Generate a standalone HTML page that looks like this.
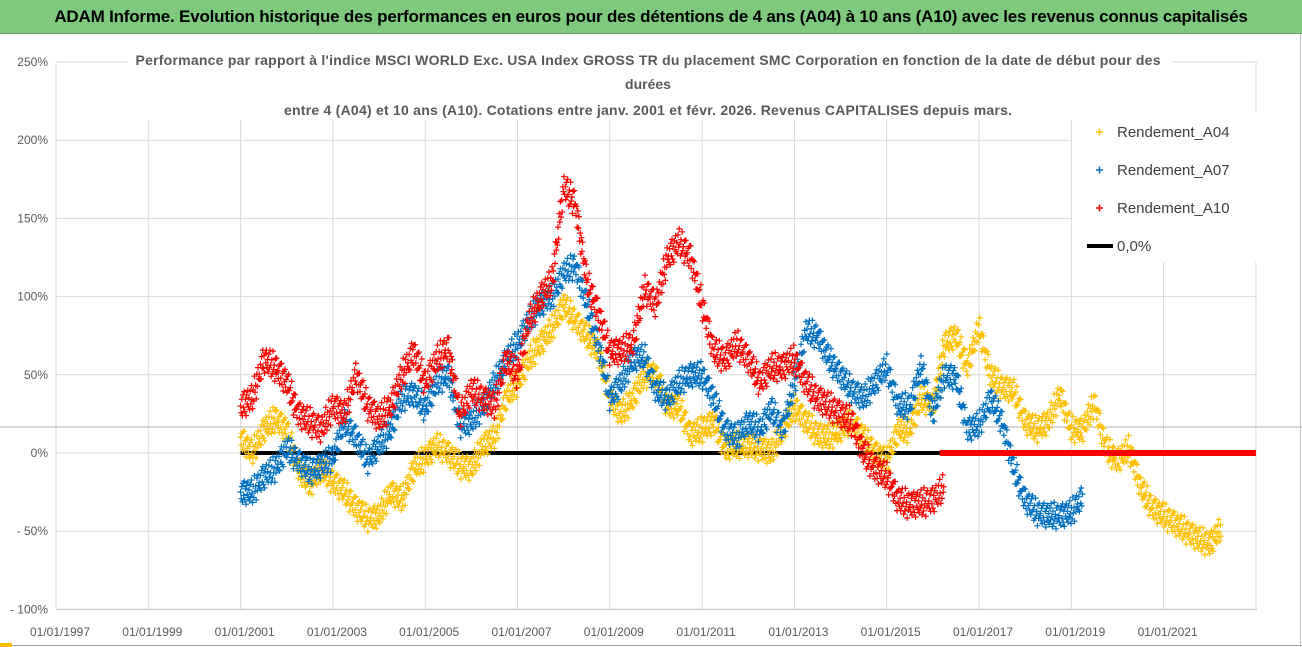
<!DOCTYPE html>
<html><head><meta charset="utf-8">
<style>
html,body{margin:0;padding:0;background:#fff;}
body{width:1302px;height:647px;overflow:hidden;position:relative;font-family:"Liberation Sans",sans-serif;}
#topbar{position:absolute;left:0;top:0;width:1302px;height:33px;background:#7fc97f;border-bottom:1px solid #6aa86a;}
#topbar div{font-weight:bold;font-size:17px;line-height:33px;text-align:center;color:#000;letter-spacing:-0.2px;}
svg{position:absolute;left:0;top:0;}
</style></head><body>
<div id="topbar"><div>ADAM Informe. Evolution historique des performances en euros pour des détentions de 4 ans (A04) à 10 ans (A10) avec les revenus connus capitalisés</div></div>
<svg id="chart" width="1302" height="647" viewBox="0 0 1302 647"></svg>
<script>
// ---- data (quarterly from start year) ----
const xTickLabels = ["01/01/1997","01/01/1999","01/01/2001","01/01/2003","01/01/2005","01/01/2007","01/01/2009","01/01/2011","01/01/2013","01/01/2015","01/01/2017","01/01/2019","01/01/2021"];
const yTickValues = [250,200,150,100,50,0,-50,-100];
const yTickLabels = ["250%","200%","150%","100%","50%","0%","- 50%","- 100%"];
const a04Start = 2001.0;
const a04Values = [10,0,15,22,15,-10,-20,-10,-18,-25,-35,-42,-40,-25,-30,-10,-3,5,0,-8,-10,5,10,35,45,60,70,80,95,85,75,65,35,25,35,50,50,30,30,12,15,20,3,5,5,3,0,15,30,20,12,10,15,20,10,0,-5,15,15,35,30,70,75,55,80,50,42,40,20,15,20,38,15,15,32,3,-5,3,-22,-35,-40,-45,-50,-55,-58,-48];
const a07Start = 2001.0;
const a07Values = [-25,-25,-15,-10,3,-5,-12,-8,-3,20,10,-5,5,15,35,38,28,45,50,18,20,30,45,60,70,85,95,100,115,120,95,70,35,45,60,62,40,35,45,50,50,35,15,10,20,15,28,15,45,78,75,60,50,40,35,45,55,30,30,55,25,50,48,15,18,35,20,-10,-30,-38,-40,-40,-38,-28];
const a10Start = 2001.0;
const a10Values = [30,35,60,55,45,25,20,15,30,25,50,30,22,30,50,65,45,60,68,25,40,35,30,60,50,85,100,110,170,160,110,90,65,65,70,105,95,125,135,125,95,65,60,70,60,45,55,55,60,45,35,30,25,20,0,-10,-15,-30,-33,-32,-30,-22];
const a10ZeroStart = 2016.15;
const a10ZeroEnd = 2023.0;
const zeroLineStart = 2001.0;
const zeroLineEnd = 2016.15;

// ---- axes ----
const X0 = 56, XPERYEAR = 46.15, YEAR0 = 1997;
const Y0 = 453, YPERPCT = 1.564;
const xs = yr => X0 + (yr - YEAR0) * XPERYEAR;
const ys = v => Y0 - v * YPERPCT;
const NS = "http://www.w3.org/2000/svg";
const svg = document.getElementById('chart');
function mk(tag, attrs, parent){const e=document.createElementNS(NS,tag);for(const k in attrs)e.setAttribute(k,attrs[k]);(parent||svg).appendChild(e);return e;}

// gridlines
const grid = mk('g',{});


yTickValues.forEach(v=>{ if(v!==-100) mk('line',{x1:X0,x2:1257,y1:ys(v),y2:ys(v),stroke:'#d9d9d9','stroke-width':1},grid); });
for(let i=0;i<=13;i++){ const x=xs(YEAR0+2*i); mk('line',{x1:x,x2:x,y1:ys(250),y2:ys(-100),stroke:'#d9d9d9','stroke-width':1},grid); }
mk('line',{x1:X0,x2:1257,y1:ys(-100),y2:ys(-100),stroke:'#bfbfbf','stroke-width':1},grid);
const hl = mk('line',{x1:0,x2:1302,y1:427,y2:427,stroke:'#b0b0b0','stroke-width':1});



// y tick labels
yTickValues.forEach((v,i)=>{
  const t = mk('text',{x:48,y:ys(v)+4,'text-anchor':'end','font-size':12,fill:'#595959','font-family':'Liberation Sans, sans-serif'});
  t.textContent = yTickLabels[i];
  
  
});
// x tick labels
xTickLabels.forEach((lab,i)=>{
  const t = mk('text',{x:xs(YEAR0+2*i)+4,y:636,'text-anchor':'middle','font-size':12,fill:'#595959','font-family':'Liberation Sans, sans-serif'});
  t.textContent = lab;
  
  
});

// black zero line
const zl = mk('line',{x1:xs(zeroLineStart),x2:xs(zeroLineEnd),y1:ys(0),y2:ys(0),stroke:'#000','stroke-width':4});



// scatter series: markers drawn along the data path with fixed band pattern
const jit = [0,6,-5,9,-8,3,-10,7,-3,11,-6,2,-9,5,-2,8,-7,4,-11,1,10,-4,7,-12,3,-1,12,-7,5,-9,2];
function series(start, vals, color, name, band){
  const g = mk('g',{});
  
  
  let d='';
  const x1 = xs(start), x2 = xs(start + (vals.length-1)*0.25);
  let k=0;
  for(let x=x1; x<=x2; x+=0.6){
    const f = (x - x1)/(XPERYEAR*0.25);
    const i = Math.min(Math.floor(f), vals.length-2);
    const t = f - i;
    const v = vals[i]*(1-t) + vals[i+1]*t;
    const y = ys(v) + jit[k%jit.length]*band;
    k++;
    d += `M${(x-3).toFixed(1)} ${y.toFixed(1)}h6M${x.toFixed(1)} ${(y-3).toFixed(1)}v6`;
  }
  mk('path',{d:d,stroke:color,'stroke-width':1.2,fill:'none'},g);
  return g;
}
series(a04Start,a04Values,'#ffc000','series-a04',1.1);
series(a07Start,a07Values,'#0070c0','series-a07',1.1);
series(a10Start,a10Values,'#ff0000','series-a10',1.2);
// red zero segment
const rz = mk('line',{x1:xs(a10ZeroStart),x2:xs(a10ZeroEnd),y1:ys(0),y2:ys(0),stroke:'#ff0000','stroke-width':6});



// chart title
const tb = mk('rect',{x:128,y:44,width:1045,height:76,fill:'#fff'});


const titleLines = ["Performance par rapport à l'indice MSCI WORLD Exc. USA Index GROSS TR  du placement SMC Corporation en fonction de la date de début pour des","durées","entre 4 (A04) et 10 ans (A10). Cotations entre janv. 2001 et févr. 2026. Revenus CAPITALISES depuis mars."];
const titleY = [65,89,115];
titleLines.forEach((s,i)=>{
  const t = mk('text',{x:648,y:titleY[i],'text-anchor':'middle','font-size':14,'font-weight':'bold',fill:'#595959','font-family':'Liberation Sans, sans-serif'});
  if(i===0) t.setAttribute('textLength','1025');
  if(i===2) t.setAttribute('textLength','728');
  t.textContent = s;
  
  
});

// legend
const lg = mk('g',{});


mk('rect',{x:1072,y:112,width:228,height:150,fill:'#fff'},lg);
const legNames = ["Rendement_A04","Rendement_A07","Rendement_A10"];
const legColors = ['#ffc000','#0070c0','#ff0000'];
legNames.forEach((n,i)=>{
  const y = 132 + i*38;
  const e = mk('g',{},lg);
  
  
  mk('path',{d:`M1096 ${y}h7M1099.5 ${y-3.5}v7`,stroke:legColors[i],'stroke-width':1.5},e);
  const t = mk('text',{x:1117,y:y+5,'font-size':15,fill:'#404040','font-family':'Liberation Sans, sans-serif'},e);
  t.textContent = n;
});
const e0 = mk('g',{},lg);


mk('line',{x1:1087,x2:1113,y1:246,y2:246,stroke:'#000','stroke-width':4},e0);
const t0 = mk('text',{x:1117,y:251,'font-size':15,fill:'#404040','font-family':'Liberation Sans, sans-serif'},e0);
t0.textContent = "0,0%";

// bottom border
mk('line',{x1:0,x2:1302,y1:645.5,y2:645.5,stroke:'#a0a0a0','stroke-width':1});
mk('rect',{x:0,y:643,width:12,height:4,fill:'#ffc000'});
mk('line',{x1:1300.5,x2:1300.5,y1:34,y2:647,stroke:'#c0c0c0','stroke-width':1});
</script>
</body></html>
